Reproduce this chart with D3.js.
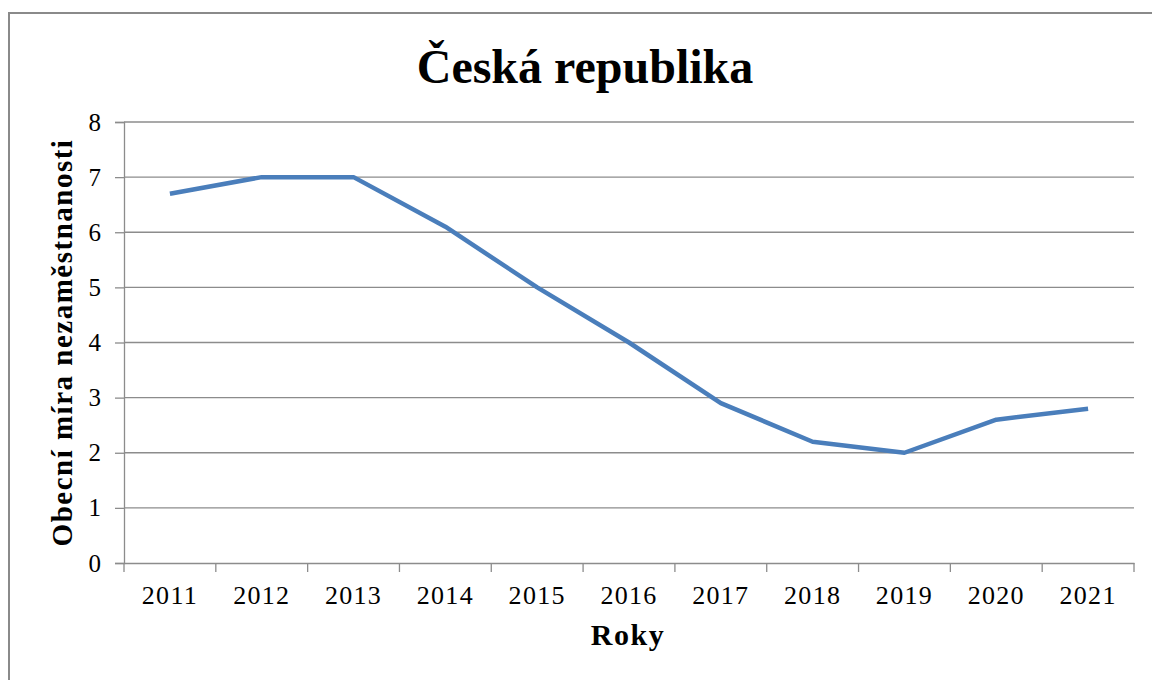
<!DOCTYPE html>
<html>
<head>
<meta charset="utf-8">
<script src="https://cdn.jsdelivr.net/npm/d3@7"></script>
<style>
  html, body { margin: 0; padding: 0; background: #fff; }
  svg { display: block; }
</style>
</head>
<body>
<svg id="chart" width="1152" height="680"></svg>
<script>
const years = ["2011","2012","2013","2014","2015","2016","2017","2018","2019","2020","2021"];
const rates = [6.7, 7.0, 7.0, 6.1, 5.0, 4.0, 2.9, 2.2, 2.0, 2.6, 2.8];
const yTicks = [0,1,2,3,4,5,6,7,8];
const titleText = "Česká republika";
const xTitle = "Roky";
const yTitle = "Obecní míra nezaměstnanosti";

(function () {
const svg = d3.select("#chart");
const font = "'Liberation Serif', 'Times New Roman', serif";
const gridColor = "#8c8c8c";

// outer frame
svg.append("rect")
  .attr("x", 9).attr("y", 13)
  .attr("width", 1200).attr("height", 720)
  .attr("fill", "#fff")
  .attr("stroke", "#8a8a8a").attr("stroke-width", 2);

const pLeft = 124, pRight = 1134, pTop = 122, pBottom = 563;

const x = d3.scaleBand().domain(years).range([pLeft, pRight]).padding(0);
const y = d3.scaleLinear().domain([0, 8]).range([pBottom, pTop]);

// gridlines
svg.append("g").selectAll("line")
  .data(yTicks.filter(d => d > 0))
  .join("line")
  .attr("x1", pLeft).attr("x2", pRight)
  .attr("y1", d => y(d)).attr("y2", d => y(d))
  .attr("stroke", gridColor).attr("stroke-width", 1.3);

// y axis
const yAxis = svg.append("g")
  .attr("transform", `translate(${pLeft},0)`)
  .call(d3.axisLeft(y).tickValues(yTicks).tickSize(9).tickPadding(14).tickFormat(d3.format("d")));
yAxis.select(".domain").attr("stroke", gridColor).attr("stroke-width", 1.3);
yAxis.selectAll(".tick line").attr("stroke", gridColor).attr("stroke-width", 1.3);
yAxis.selectAll("text").attr("font-family", font).attr("font-size", 25).attr("fill", "#000");

// x axis
const xAxis = svg.append("g")
  .attr("transform", `translate(0,${pBottom})`)
  .call(d3.axisBottom(x).tickSize(0).tickPadding(23));
xAxis.select(".domain").attr("stroke", gridColor).attr("stroke-width", 1.3);
xAxis.selectAll(".tick line").remove();
xAxis.selectAll("text").attr("font-family", font).attr("font-size", 26)
  .attr("letter-spacing", 1.3).attr("fill", "#000");
// tick marks at band boundaries
const bounds = years.map(d => x(d)).concat([x(years[years.length-1]) + x.bandwidth()]);
svg.append("g").selectAll("line")
  .data(bounds)
  .join("line")
  .attr("x1", d => d).attr("x2", d => d)
  .attr("y1", pBottom).attr("y2", pBottom + 9)
  .attr("stroke", gridColor).attr("stroke-width", 1.3);

// line
const line = d3.line()
  .x((d, i) => x(years[i]) + x.bandwidth() / 2)
  .y(d => y(d));
svg.append("path")
  .datum(rates)
  .attr("d", line)
  .attr("fill", "none")
  .attr("stroke", "#4a7ebb")
  .attr("stroke-width", 4.5)
  .attr("stroke-linejoin", "round");

// title
svg.append("text")
  .attr("x", 585).attr("y", 83)
  .attr("text-anchor", "middle")
  .attr("font-family", font).attr("font-weight", "bold").attr("font-size", 48)
  .text(titleText);

// x title
svg.append("text")
  .attr("x", 628).attr("y", 645)
  .attr("text-anchor", "middle")
  .attr("font-family", font).attr("font-weight", "bold").attr("font-size", 30)
  .attr("letter-spacing", 1.5)
  .text(xTitle);

// y title
svg.append("text")
  .attr("transform", `translate(72,${(pTop + pBottom) / 2}) rotate(-90)`)
  .attr("text-anchor", "middle")
  .attr("font-family", font).attr("font-weight", "bold").attr("font-size", 29)
  .attr("letter-spacing", 1.5)
  .text(yTitle);
})();
</script>
</body>
</html>
